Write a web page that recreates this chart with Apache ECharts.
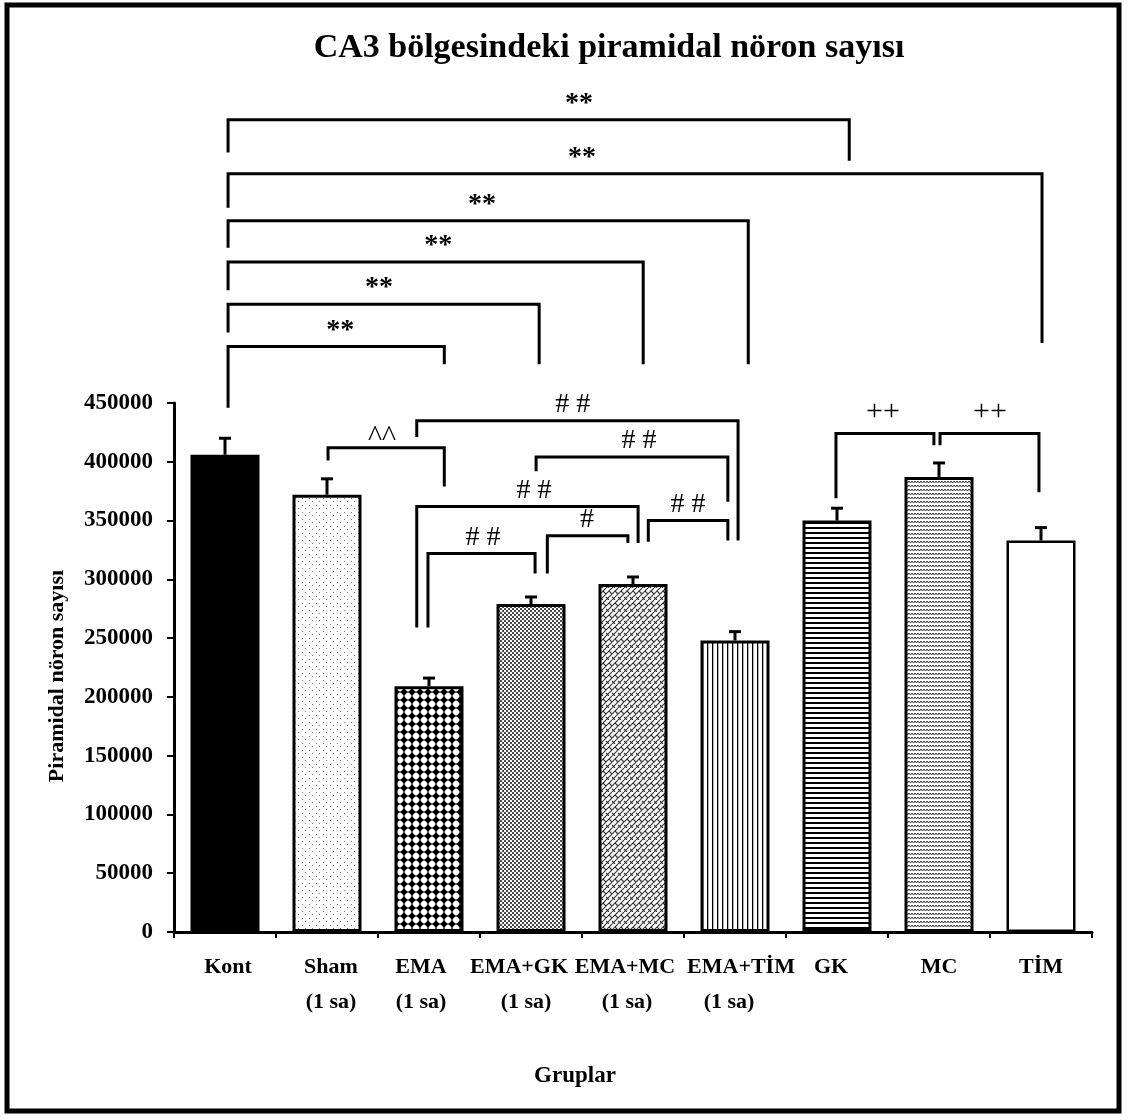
<!DOCTYPE html>
<html>
<head>
<meta charset="utf-8">
<script src="https://cdn.jsdelivr.net/npm/echarts@6/dist/echarts.min.js"></script>
<style>html,body{margin:0;padding:0;background:#fff}#c{width:1128px;height:1120px}</style>
</head>
<body>
<div id="c"></div>
<script>
// ---- data ----
const categories = ['Kont', 'Sham\n(1 sa)', 'EMA\n(1 sa)', 'EMA+GK\n(1 sa)', 'EMA+MC\n(1 sa)', 'EMA+TİM\n(1 sa)', 'GK', 'MC', 'TİM'];
const means = [406000, 372000, 209000, 279000, 296000, 248000, 350000, 387000, 333000];
const errors = [14000, 13500, 7000, 6000, 6000, 7500, 10500, 12000, 11000];
const yTicks = [0, 50000, 100000, 150000, 200000, 250000, 300000, 350000, 400000, 450000];
// significance brackets: [xStart, xEnd, topValue, leftFootValue, rightFootValue, label, labelX]
const brackets = [
  [0.03, 6.12, 691000, 663000, 656000, '**', 3.47],
  [0.03, 8.01, 645000, 616000, 501000, '**', 3.50],
  [0.03, 5.13, 605000, 582000, 483000, '**', 2.52],
  [0.03, 4.10, 570000, 546000, 483000, '**', 2.09],
  [0.03, 3.08, 534000, 510000, 483000, '**', 1.51],
  [0.03, 2.15, 498000, 446000, 483000, '**', 1.13],
  [1.01, 2.15, 412000, 401000, 379000, '^^', 1.54],
  [1.88, 5.03, 435000, 421000, 333000, '# #', 3.41],
  [3.05, 4.93, 404000, 392000, 366000, '# #', 4.06],
  [1.88, 4.05, 362000, 259000, 331000, '# #', 3.03],
  [1.99, 3.04, 322000, 259000, 305000, '# #', 2.53],
  [3.16, 3.95, 337000, 305000, 331000, '#', 3.55],
  [4.15, 4.93, 350000, 332000, 333000, '# #', 4.54],
  [5.99, 6.95, 424000, 369000, 414000, '++', 6.45],
  [7.01, 7.98, 424000, 414000, 374000, '++', 7.50]
];

// ---- pattern tiles (styles) ----
function tile(w, h, draw) {
  const c = document.createElement('canvas');
  c.width = w; c.height = h;
  const g = c.getContext('2d');
  g.fillStyle = '#fff'; g.fillRect(0, 0, w, h);
  draw(g);
  return { image: c, repeat: 'repeat' };
}
const patterns = [
  '#000',
  tile(7, 7, g => { g.fillStyle = '#777'; g.fillRect(1, 1, 1, 1); g.fillRect(4, 4, 1, 1); }),
  tile(8, 8, g => { g.fillStyle = '#000';
    g.beginPath(); g.moveTo(4, 0.3); g.lineTo(7.7, 4); g.lineTo(4, 7.7); g.lineTo(0.3, 4); g.closePath(); g.fill();
    g.fillRect(3.5, 0, 1, 8); g.fillRect(0, 3.5, 8, 1); }),
  tile(4, 4, g => { g.fillStyle = '#111'; g.beginPath(); g.arc(1, 1, 1.0, 0, 7); g.fill(); g.beginPath(); g.arc(3, 3, 1.0, 0, 7); g.fill(); }),
  tile(12, 12, g => { g.strokeStyle = '#333'; g.lineWidth = 1.1;
    [0, 6, 12, 18, 24].forEach(s => { g.beginPath(); g.moveTo(s, 0); g.lineTo(s - 12, 12); g.stroke(); });
    g.beginPath(); g.moveTo(3, 3); g.lineTo(6, 6); g.stroke();
    g.beginPath(); g.moveTo(9, 3); g.lineTo(12, 6); g.stroke();
    g.beginPath(); g.moveTo(-3, 3); g.lineTo(0, 6); g.stroke();
    g.beginPath(); g.moveTo(6, 9); g.lineTo(9, 12); g.stroke();
    g.beginPath(); g.moveTo(0, 9); g.lineTo(3, 12); g.stroke();
    g.beginPath(); g.moveTo(12, 9); g.lineTo(15, 12); g.stroke();
  }),
  tile(5, 2, g => { g.fillStyle = '#000'; g.fillRect(2, 0, 1.3, 2); }),
  tile(2, 5, g => { g.fillStyle = '#000'; g.fillRect(0, 2, 2, 2); }),
  tile(6, 4, g => { g.strokeStyle = '#333'; g.lineWidth = 1; g.beginPath(); g.moveTo(0, 1); g.lineTo(1.5, 3); g.lineTo(3, 1); g.lineTo(4.5, 3); g.lineTo(6, 1); g.stroke(); }),
  '#fff'
];

const serif = '"Liberation Serif", "Times New Roman", serif';
const labelStyle = {
  '**': { off: 16, font: 'bold 28px ' },
  '#': { off: 16, font: '28px ' },
  '# #': { off: 16, font: '28px ' },
  '^^': { off: 10, font: '30px ' },
  '++': { off: 21, font: '30px ' }
};
// horizontal nudges of the two label lines (px), as in the original layout
const shift1 = [3, 4, -8, -12, -8, 6, -6, 0, 0];
const shift2 = [0, 4, -8, -5, -6, -6, 0, 0, 0];
const rich = {};
function pad(s) { return s >= 0 ? [0, 0, 0, 2 * s] : [0, -2 * s, 0, 0]; }
for (let i = 0; i < 9; i++) {
  rich['f' + i] = { padding: pad(shift1[i]), fontFamily: serif, fontWeight: 'bold', fontSize: 22, color: '#000', lineHeight: 35 };
  rich['s' + i] = { padding: pad(shift2[i]), fontFamily: serif, fontWeight: 'bold', fontSize: 22, color: '#000', lineHeight: 35 };
}

const chart = echarts.init(document.getElementById('c'), null, { renderer: 'canvas' });
chart.setOption({
  backgroundColor: '#fff',
  animation: false,
  grid: { left: 174, right: 36, top: 403, bottom: 188 },
  xAxis: [
    {
      type: 'category', data: categories,
      axisLine: { onZero: false, lineStyle: { color: '#000', width: 3 } },
      axisTick: { show: true, length: 6, lineStyle: { color: '#000', width: 2 } },
      axisLabel: { color: '#000', fontFamily: serif, fontWeight: 'bold', fontSize: 22, lineHeight: 35, margin: 18, interval: 0,
        formatter: (v, i) => v.split('\n').map((t, k) => '{' + (k ? 's' : 'f') + i + '|' + t + '}').join('\n'),
        rich: rich }
    },
    { type: 'value', min: -0.5, max: 8.5, show: false }
  ],
  yAxis: {
    type: 'value', min: 0, max: 450000, interval: 50000,
    splitLine: { show: false },
    axisLine: { show: true, onZero: false, lineStyle: { color: '#000', width: 3 } },
    axisTick: { show: true, length: 7, lineStyle: { color: '#000', width: 2 } },
    axisLabel: { color: '#000', fontFamily: serif, fontWeight: 'bold', fontSize: 23, margin: 21,
      formatter: v => yTicks.indexOf(v) >= 0 ? String(v) : '' }
  },
  graphic: [
    { type: 'rect', shape: { x: 7, y: 5, width: 1112, height: 1106 }, style: { fill: 'none', stroke: '#000', lineWidth: 5 }, z: 100 },
    { type: 'text', x: 609, y: 48, style: { text: 'CA3 bölgesindeki piramidal nöron sayısı', font: 'bold 34px ' + serif, fill: '#000', textAlign: 'center', textVerticalAlign: 'middle' } },
    { type: 'text', x: 575, y: 1076, style: { text: 'Gruplar', font: 'bold 23px ' + serif, fill: '#000', textAlign: 'center', textVerticalAlign: 'middle' } },
    { type: 'text', x: 57, y: 676, rotation: Math.PI / 2, style: { text: 'Piramidal nöron sayısı', font: 'bold 22px ' + serif, fill: '#000', textAlign: 'center', textVerticalAlign: 'middle' } }
  ],
  series: [
    {
      type: 'bar', barWidth: 69,
      data: means.map((v, i) => ({
        value: v,
        itemStyle: { color: patterns[i], borderColor: '#000', borderWidth: i === 8 ? 2.5 : 3 }
      }))
    },
    {
      type: 'custom', clip: false, z: 5,
      data: means.map((v, i) => [i, v, errors[i]]),
      renderItem: (params, api) => {
        const i = api.value(0), v = api.value(1), e = api.value(2);
        const p0 = api.coord([i, v]);
        const p1 = api.coord([i, v + e]);
        return { type: 'group', children: [
          { type: 'line', shape: { x1: p0[0], y1: p0[1], x2: p1[0], y2: p1[1] }, style: { stroke: '#000', lineWidth: 3 } },
          { type: 'line', shape: { x1: p1[0] - 6, y1: p1[1], x2: p1[0] + 6, y2: p1[1] }, style: { stroke: '#000', lineWidth: 3 } }
        ] };
      }
    },
    {
      type: 'custom', clip: false, xAxisIndex: 1, z: 5,
      data: brackets.map((b, k) => [b[0], b[2], k]),
      renderItem: (params, api) => {
        const b = brackets[api.value(2)];
        const a = api.coord([b[0], b[3]]);
        const t1 = api.coord([b[0], b[2]]);
        const t2 = api.coord([b[1], b[2]]);
        const c = api.coord([b[1], b[4]]);
        const l = api.coord([b[6], b[2]]);
        const ls = labelStyle[b[5]];
        return { type: 'group', children: [
          { type: 'polyline', shape: { points: [a, t1, t2, c] }, style: { stroke: '#000', lineWidth: 3, fill: null, lineJoin: 'miter' } },
          { type: 'text', x: l[0], y: l[1] - ls.off, style: { text: b[5], font: ls.font + serif, fill: '#000', textAlign: 'center', textVerticalAlign: 'middle' } }
        ] };
      }
    }
  ]
});
</script>
</body>
</html>
